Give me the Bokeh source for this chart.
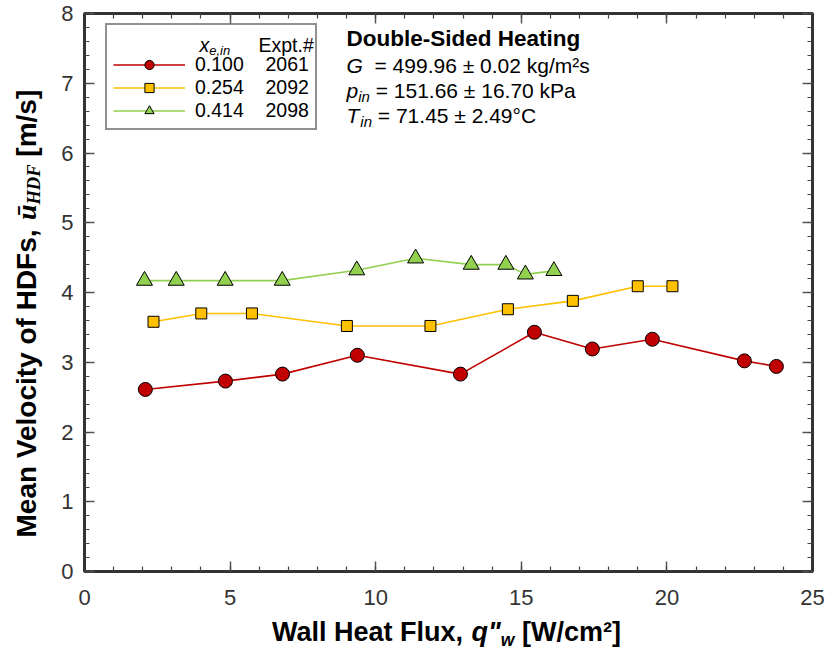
import math
from bokeh.plotting import figure
from bokeh.layouts import row, column
from bokeh.models import (Range1d, FixedTicker, LinearAxis, Legend, LegendItem,
                          Label, CustomJSTickFormatter)
from bokeh.embed import file_html
from bokeh.resources import INLINE

# ---------------- data ----------------
q_0100 = [2.09, 4.84, 6.80, 9.37, 12.91, 15.45, 17.44, 19.50, 22.66, 23.76]
u_0100 = [2.61, 2.73, 2.83, 3.10, 2.83, 3.43, 3.19, 3.33, 3.02, 2.94]

q_0254 = [2.37, 4.01, 5.75, 9.01, 11.88, 14.54, 16.77, 19.00, 20.19]
u_0254 = [3.58, 3.70, 3.70, 3.52, 3.52, 3.76, 3.88, 4.09, 4.09]

q_0414 = [2.06, 3.15, 4.83, 6.79, 9.35, 11.37, 13.28, 14.47, 15.14, 16.12]
u_0414 = [4.17, 4.17, 4.17, 4.17, 4.32, 4.49, 4.40, 4.40, 4.26, 4.31]

xe_in = ["0.100", "0.254", "0.414"]
expt_no = ["2061", "2092", "2098"]

x_ticks = [0, 5, 10, 15, 20, 25]
x_minor = list(range(0, 26))
y_ticks = [0, 1, 2, 3, 4, 5, 6, 7, 8]
y_minor = [round(0.2 * i, 1) for i in range(41)]

RED, YEL, GRN = "#C00000", "#FFC000", "#92D050"
FRAME = "#333333"
SANS = "Liberation Sans"
SERIF = "Liberation Serif"

# ---------------- text width helper (Arial / Times metrics) ----------------
AR = {' ': 278, '\u00a0': 278, 'G': 778, 'T': 611, 'p': 556, 'i': 222, 'n': 556,
      'x': 500, 'e': 556, ',': 278}
AB = {' ': 278, '\u00a0': 278, 'M': 833, 'e': 556, 'a': 556, 'n': 611, 'V': 667,
      'l': 278, 'o': 611, 'c': 556, 'i': 278, 't': 333, 'y': 556, 'f': 333,
      'H': 722, 'D': 722, 'F': 611, 's': 556, ',': 278, 'W': 944, 'u': 611,
      'x': 556, 'q': 611, '"': 474, 'w': 778}
TBI = {'\u016b': 556, 'H': 778, 'D': 722, 'F': 667}


def tw(s, table, size):
    return sum(table[c] for c in s) * size / 1000.0


LEFT_W = 48          # width of the strip holding the y title
MAIN_H = 614         # height of the main plot canvas
TOTAL_W, TOTAL_H = 828, 650
B_TOP, B_BOT = 13, 43

p = figure(width=TOTAL_W - LEFT_W, height=MAIN_H,
           x_range=Range1d(0, 25), y_range=Range1d(0, 8),
           output_backend="svg", toolbar_location=None,
           min_border_left=36, min_border_right=16, min_border_top=B_TOP,
           min_border_bottom=B_BOT)
p.grid.visible = False
p.outline_line_color = FRAME
p.outline_line_width = 3


def style_axis(ax, labels=True):
    ax.axis_line_color = FRAME
    ax.axis_line_width = 3
    ax.major_tick_in = 10
    ax.major_tick_out = 0
    ax.minor_tick_in = 5
    ax.minor_tick_out = 0
    ax.major_tick_line_color = "#555555"
    ax.major_tick_line_width = 1.5
    ax.minor_tick_line_color = "#444444"
    ax.minor_tick_line_width = 1.2
    ax.axis_label = None
    if labels:
        ax.major_label_text_font = SANS
        ax.major_label_text_font_size = "22px"
        ax.major_label_text_color = "#333333"
    else:
        ax.formatter = CustomJSTickFormatter(code="return ''")
        ax.major_label_text_font_size = "0px"
        ax.major_label_standoff = 0


xa = p.xaxis[0]
xa.ticker = FixedTicker(ticks=x_ticks, minor_ticks=x_minor)
style_axis(xa)
xa.major_label_standoff = 18
ya = p.yaxis[0]
ya.ticker = FixedTicker(ticks=y_ticks, minor_ticks=y_minor)
style_axis(ya)
ya.major_label_standoff = 11

ax_top = LinearAxis(ticker=FixedTicker(ticks=x_ticks, minor_ticks=x_minor))
style_axis(ax_top, labels=False)
p.add_layout(ax_top, "above")
ax_right = LinearAxis(ticker=FixedTicker(ticks=y_ticks, minor_ticks=y_minor))
style_axis(ax_right, labels=False)
p.add_layout(ax_right, "right")

# ---------------- series ----------------
series = [
    (q_0100, u_0100, RED, "circle", 14),
    (q_0254, u_0254, YEL, "square", 11),
    (q_0414, u_0414, GRN, "triangle", 16),
]
items = []
for (xs, ys, col, mk, sz), xe, ex in zip(series, xe_in, expt_no):
    lr = p.line(xs, ys, line_color=col, line_width=1.6)
    sr = p.scatter(xs, ys, marker=mk, size=sz, fill_color=col,
                   line_color="black", line_width=1)
    nb = "\u00a0"
    items.append(LegendItem(label=xe + nb * 4 + ex, renderers=[lr, sr]))

legend = Legend(items=items, location=(21, 441), title="\u00a0",
                title_text_font_size="18.5px", title_standoff=0,
                padding=6, spacing=0, glyph_width=72, glyph_height=23,
                label_standoff=10, margin=0,
                border_line_color="#222222", border_line_width=2,
                background_fill_alpha=0,
                label_text_font=SANS, label_text_font_size="19.5px",
                label_text_color="black")
p.add_layout(legend)

SHIFT = 0.3   # fraction of the font size by which an "alphabetic" label sits low


def piece(fig, text, fx, fy, size, font=SANS, style="normal", rotated=False,
          color="black", level="annotation"):
    # (fx, fy) is the intended baseline start, in screen px from the frame corner
    if rotated:
        fx, angle = fx - SHIFT * size, math.pi / 2
    else:
        fy, angle = fy + SHIFT * size, 0.0
    fig.add_layout(Label(x=fx, y=fy, x_units="screen", y_units="screen", text=text,
                         text_font=font, text_font_size=f"{size}px",
                         text_font_style=style, text_align="left",
                         text_baseline="alphabetic", angle=angle,
                         angle_units="rad", text_color=color, level=level))


# legend header
piece(p, "x", 115, 521, 19.5, style="italic", level="overlay")
piece(p, "e,in", 115 + tw("x", AR, 19.5), 517, 13, style="italic", level="overlay")
piece(p, "Expt.#", 174, 521, 19.5, level="overlay")

# annotation block
AX = 262
piece(p, "Double-Sided Heating", AX, 526, 22.5, style="bold")
piece(p, "G", AX, 500, 21, style="italic")
piece(p, "\u00a0\u00a0= 499.96 \u00b1 0.02 kg/m\u00b2s", AX + tw("G", AR, 21), 500, 21)
piece(p, "p", AX, 475, 21, style="italic")
piece(p, "in", AX + tw("p", AR, 21), 471, 15, style="italic")
piece(p, "\u00a0= 151.66 \u00b1 16.70 kPa", AX + tw("p", AR, 21) + tw("in", AR, 15), 475, 21)
piece(p, "T", AX, 449.5, 21, style="italic")
piece(p, "in", AX + tw("T", AR, 21) + 1, 445.5, 15, style="italic")
piece(p, "\u00a0= 71.45 \u00b1 2.49\u00b0C", AX + tw("T", AR, 21) + 1 + tw("in", AR, 15), 449.5, 21)


def blank(w, h, top=0, bottom=0):
    f = figure(width=w, height=h, x_range=Range1d(0, 1), y_range=Range1d(0, 1),
               output_backend="svg", toolbar_location=None, min_border=0,
               min_border_left=0, min_border_right=0,
               min_border_top=top, min_border_bottom=bottom,
               x_axis_location=None, y_axis_location=None)
    f.grid.visible = False
    f.outline_line_color = None
    return f


# ---------------- y axis title (left strip, frame aligned with the plot) ----------------
yf = blank(LEFT_W, MAIN_H, top=B_TOP, bottom=B_BOT)
TY, TSUB = 28, 18.5
YB, YS = 34, 34
y1 = YS + tw("Mean Velocity of HDFs, ", AB, TY)
y2 = y1 + tw("\u016b", TBI, TY)
y3 = y2 + tw("HDF", TBI, TSUB)
piece(yf, "Mean Velocity of HDFs,", YB, YS, TY, style="bold", rotated=True)
piece(yf, "\u016b", YB, y1, TY, font=SERIF, style="bold italic", rotated=True)
piece(yf, "HDF", YB + 5, y2, TSUB, font=SERIF, style="bold italic", rotated=True)
piece(yf, "\u00a0[m/s]", YB, y3, TY, style="bold", rotated=True)

# ---------------- x axis title (bottom strip) ----------------
xf = blank(TOTAL_W, TOTAL_H - MAIN_H)
TX = 27
XS, XY = 271.5, 10
x1 = XS + tw("Wall Heat Flux, ", AB, TX)
x2 = x1 + tw('q"', AB, TX)
x3 = x2 + tw("w", AB, 17.5)
piece(xf, "Wall Heat Flux,", XS, XY, TX, style="bold")
piece(xf, 'q"', x1, XY, TX, style="bold italic")
piece(xf, "w", x2, XY - 5, 17.5, style="bold italic")
piece(xf, "\u00a0[W/cm\u00b2]", x3, XY, TX, style="bold")

layout = column(row(yf, p), xf)
open("out.html", "w").write(file_html(layout, INLINE))
